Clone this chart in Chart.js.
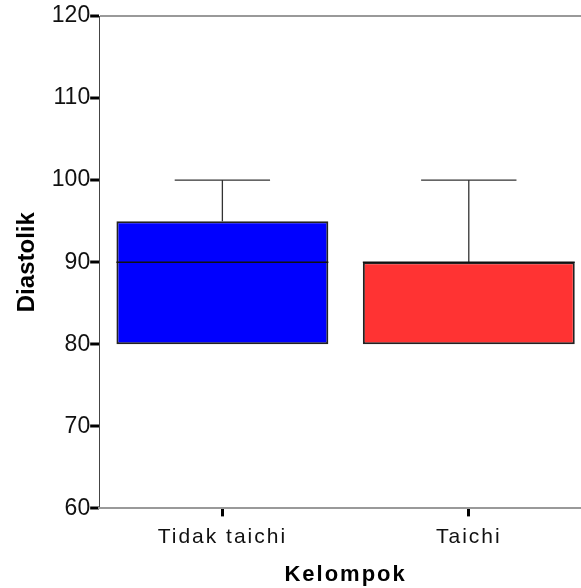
<!DOCTYPE html>
<html>
<head>
<meta charset="utf-8">
<script src="https://cdn.jsdelivr.net/npm/chart.js@4"></script>
<style>
  html, body { margin: 0; padding: 0; background: #fff; overflow: hidden; }
  #wrap { width: 592px; height: 588px; }
</style>
</head>
<body>
<div id="wrap"><canvas id="boxChart"></canvas></div>
<script>
const groups = ["Tidak taichi", "Taichi"];
const minVals = [80, 80];
const q1Vals = [80, 80];
const medianVals = [90, 90];
const q3Vals = [95, 90];
const maxVals = [100, 100];
const boxColors = ["#0000ff", "#ff3333"];

const boxes = groups.map((g, i) => [q1Vals[i], q3Vals[i]]);

// whiskers + median lines, drawn from the scales
const boxExtras = {
    id: "boxExtras",
    beforeDraw(chart) {
        chart.ctx.letterSpacing = "0px";
    },
    afterDatasetsDraw(chart) {
        const ctx = chart.ctx;
        const y = chart.scales.y;
        const meta = chart.getDatasetMeta(0);
        ctx.save();
        meta.data.forEach((bar, i) => {
            const cx = bar.x;
            const capHalf = bar.width * 0.225;
            ctx.strokeStyle = "#333";
            ctx.lineWidth = 1.3;
            ctx.beginPath();
            ctx.moveTo(cx, y.getPixelForValue(q3Vals[i]));
            ctx.lineTo(cx, y.getPixelForValue(maxVals[i]));
            ctx.moveTo(cx - capHalf, y.getPixelForValue(maxVals[i]));
            ctx.lineTo(cx + capHalf, y.getPixelForValue(maxVals[i]));
            if (minVals[i] < q1Vals[i]) {
                ctx.moveTo(cx, y.getPixelForValue(q1Vals[i]));
                ctx.lineTo(cx, y.getPixelForValue(minVals[i]));
                ctx.moveTo(cx - capHalf, y.getPixelForValue(minVals[i]));
                ctx.lineTo(cx + capHalf, y.getPixelForValue(minVals[i]));
            }
            ctx.stroke();
            ctx.strokeStyle = "#111";
            ctx.lineWidth = 1.5;
            ctx.beginPath();
            ctx.moveTo(bar.x - bar.width / 2, y.getPixelForValue(medianVals[i]));
            ctx.lineTo(bar.x + bar.width / 2, y.getPixelForValue(medianVals[i]));
            ctx.stroke();
        });
        ctx.restore();
        // x axis layers (z: 1) are drawn after this, with wider letters
        ctx.letterSpacing = "2px";
    }
};

new Chart(document.getElementById("boxChart"), {
    type: "bar",
    data: {
        labels: groups,
        datasets: [{
            data: boxes,
            backgroundColor: boxColors,
            borderColor: "#222",
            borderWidth: 2,
            borderSkipped: false,
            barPercentage: 0.86,
            categoryPercentage: 1.0
        }]
    },
    options: {
        responsive: true,
        maintainAspectRatio: false,
        animation: false,
        layout: { padding: { top: 16, right: 0, bottom: 0, left: 13 } },
        plugins: {
            legend: { display: false },
            tooltip: { enabled: false }
        },
        scales: {
            x: {
                grid: {
                    z: 1,
                    offset: false,
                    drawOnChartArea: false,
                    tickLength: 8,
                    tickWidth: 3,
                    tickColor: "#000"
                },
                border: { z: 1, color: "#999", width: 2 },
                ticks: {
                    z: 1,
                    color: "#111",
                    font: { family: "Liberation Sans, Arial", size: 21 },
                    padding: 8
                },
                title: {
                    display: true,
                    text: "Kelompok",
                    color: "#000",
                    font: { family: "Liberation Sans, Arial", size: 22, weight: "bold" },
                    padding: { top: 4, bottom: 0 }
                }
            },
            y: {
                min: 60,
                max: 120,
                grid: {
                    drawOnChartArea: true,
                    color: c => (c.tick && c.tick.value === 120) ? "#999" : "rgba(0,0,0,0)",
                    lineWidth: 2,
                    tickLength: 9,
                    tickWidth: 3,
                    tickColor: "#000"
                },
                border: { color: "#444", width: 1 },
                ticks: {
                    stepSize: 10,
                    color: "#111",
                    font: { family: "Liberation Sans, Arial", size: 23 },
                    padding: 0
                },
                title: {
                    display: true,
                    text: "Diastolik",
                    color: "#000",
                    font: { family: "Liberation Sans, Arial", size: 24, weight: "bold" },
                    padding: { top: 0, bottom: 10 }
                }
            }
        }
    },
    plugins: [boxExtras]
});
</script>
</body>
</html>
